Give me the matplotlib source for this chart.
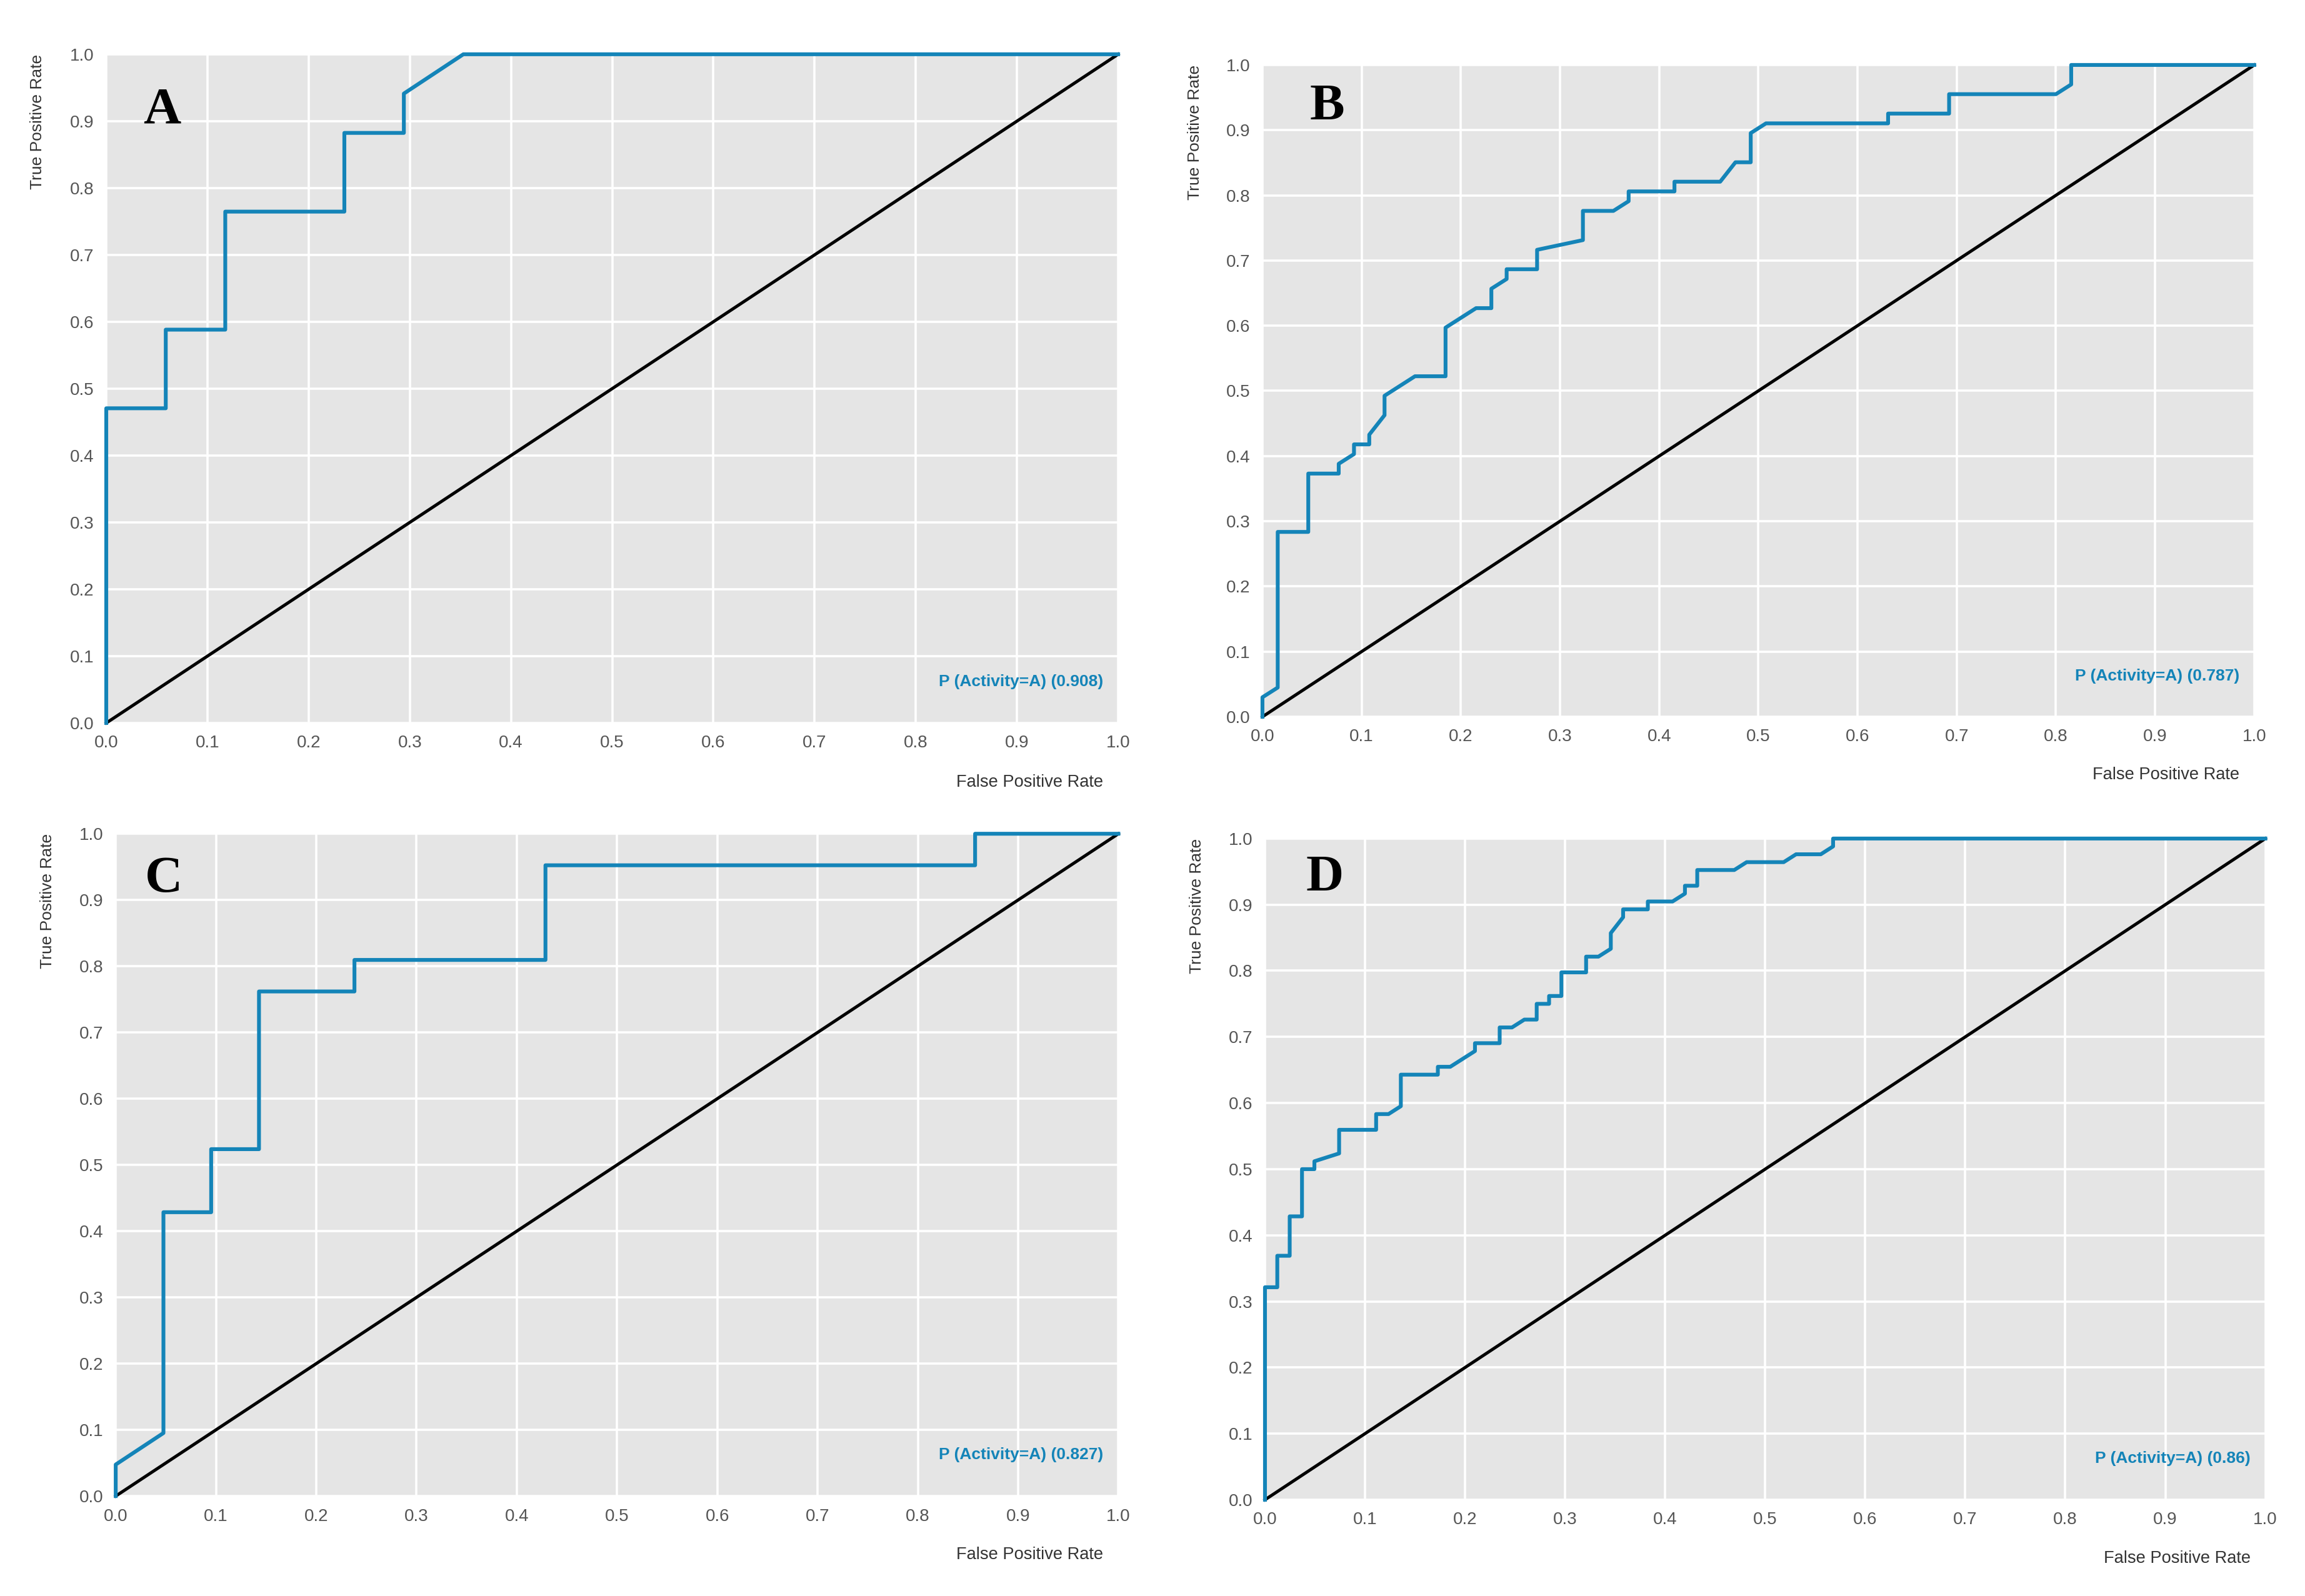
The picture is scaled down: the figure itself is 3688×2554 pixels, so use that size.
import matplotlib.pyplot as plt
import numpy as np

# ROC points
fpr_a = [0.0, 0.0, 0.0588, 0.0588, 0.1176, 0.1176, 0.2353, 0.2353, 0.2941, 0.2941, 0.3529, 1.0]
tpr_a = [0.0, 0.4706, 0.4706, 0.5882, 0.5882, 0.7647, 0.7647, 0.8824, 0.8824, 0.9412, 1.0, 1.0]

fpr_b = [0.0, 0.0, 0.0154, 0.0154, 0.0462, 0.0462, 0.0769, 0.0769, 0.0923, 0.0923, 0.1077, 0.1077,
         0.1231, 0.1231, 0.1538, 0.1846, 0.1846, 0.2154, 0.2308, 0.2308, 0.2462, 0.2462, 0.2769,
         0.2769, 0.3231, 0.3231, 0.3538, 0.3692, 0.3692, 0.4154, 0.4154, 0.4615, 0.4769, 0.4923,
         0.4923, 0.5077, 0.6308, 0.6308, 0.6923, 0.6923, 0.8, 0.8154, 0.8154, 1.0]
tpr_b = [0.0, 0.0299, 0.0448, 0.2836, 0.2836, 0.3731, 0.3731, 0.3881, 0.4030, 0.4179, 0.4179, 0.4328,
         0.4627, 0.4925, 0.5224, 0.5224, 0.5970, 0.6269, 0.6269, 0.6567, 0.6716, 0.6866, 0.6866,
         0.7164, 0.7313, 0.7761, 0.7761, 0.7910, 0.8060, 0.8060, 0.8209, 0.8209, 0.8507, 0.8507,
         0.8955, 0.9104, 0.9104, 0.9254, 0.9254, 0.9552, 0.9552, 0.9701, 1.0, 1.0]

fpr_c = [0.0, 0.0, 0.0476, 0.0476, 0.0952, 0.0952, 0.1429, 0.1429, 0.2381, 0.2381, 0.4286, 0.4286,
         0.8571, 0.8571, 1.0]
tpr_c = [0.0, 0.0476, 0.0952, 0.4286, 0.4286, 0.5238, 0.5238, 0.7619, 0.7619, 0.8095, 0.8095, 0.9524,
         0.9524, 1.0, 1.0]

fpr_d = [0.0, 0.0, 0.0123, 0.0123, 0.0247, 0.0247, 0.0370, 0.0370, 0.0494, 0.0494, 0.0741, 0.0741,
         0.1111, 0.1111, 0.1235, 0.1358, 0.1358, 0.1728, 0.1728, 0.1852, 0.2099, 0.2099, 0.2346,
         0.2346, 0.2469, 0.2593, 0.2716, 0.2716, 0.2840, 0.2840, 0.2963, 0.2963, 0.3210, 0.3210,
         0.3333, 0.3457, 0.3457, 0.3580, 0.3580, 0.3827, 0.3827, 0.4074, 0.4198, 0.4198, 0.4321,
         0.4321, 0.4691, 0.4815, 0.5185, 0.5309, 0.5556, 0.5679, 0.5679, 1.0]
tpr_d = [0.0, 0.3214, 0.3214, 0.3690, 0.3690, 0.4286, 0.4286, 0.5000, 0.5000, 0.5119, 0.5238, 0.5595,
         0.5595, 0.5833, 0.5833, 0.5952, 0.6429, 0.6429, 0.6548, 0.6548, 0.6786, 0.6905, 0.6905,
         0.7143, 0.7143, 0.7262, 0.7262, 0.7500, 0.7500, 0.7619, 0.7619, 0.7976, 0.7976, 0.8214,
         0.8214, 0.8333, 0.8571, 0.8810, 0.8929, 0.8929, 0.9048, 0.9048, 0.9167, 0.9286, 0.9286,
         0.9524, 0.9524, 0.9643, 0.9643, 0.9762, 0.9762, 0.9881, 1.0, 1.0]

letters = ['A', 'B', 'C', 'D']
auc_labels = ['P (Activity=A) (0.908)', 'P (Activity=A) (0.787)',
              'P (Activity=A) (0.827)', 'P (Activity=A) (0.86)']
ticks = [0.0, 0.1, 0.2, 0.3, 0.4, 0.5, 0.6, 0.7, 0.8, 0.9, 1.0]

curves = [(fpr_a, tpr_a), (fpr_b, tpr_b), (fpr_c, tpr_c), (fpr_d, tpr_d)]
boxes = [[0.0461, 0.5470, 0.4390, 0.4190],
         [0.5477, 0.5509, 0.4303, 0.4084],
         [0.0502, 0.0626, 0.4350, 0.4150],
         [0.5488, 0.0603, 0.4340, 0.4143]]
letter_pos = [(0.055, 0.916), (0.065, 0.935), (0.048, 0.931), (0.060, 0.940)]

blue = '#1484b8'
grey = '#555555'
sans = ['Liberation Sans', 'DejaVu Sans']

fig = plt.figure(figsize=(18.44, 12.77), dpi=200)

for i in range(4):
	ax = fig.add_axes(boxes[i])
	ax.set_facecolor('#e5e5e5')
	for s in ax.spines.values():
		s.set_visible(False)
	ax.grid(color='white', linewidth=1.3)
	ax.set_axisbelow(True)

	ax.plot([0, 1], [0, 1], color='black', linewidth=1.8, clip_on=False)
	ax.plot(curves[i][0], curves[i][1], color=blue, linewidth=2.2, clip_on=False, zorder=3)

	ax.set_xlim(0, 1)
	ax.set_ylim(0, 1)
	ax.set_xticks(ticks)
	ax.set_yticks(ticks)
	ax.set_xticklabels(['%.1f' % t for t in ticks], family=sans, color=grey, fontsize=10)
	ax.set_yticklabels(['%.1f' % t for t in ticks], family=sans, color=grey, fontsize=10)
	ax.tick_params(length=0, pad=7)

	ax.text(0.985, -0.089, 'False Positive Rate', transform=ax.transAxes, ha='right', va='center',
		family=sans, color='#333333', fontsize=9.8)
	ax.text(-0.068, 1.0, 'True Positive Rate', transform=ax.transAxes, ha='center', va='top',
		rotation=90, family=sans, color='#333333', fontsize=9.5)
	ax.text(0.985, 0.062, auc_labels[i], transform=ax.transAxes, ha='right', va='center',
		family=sans, color=blue, fontsize=9.5, fontweight='bold')
	ax.text(letter_pos[i][0], letter_pos[i][1], letters[i], transform=ax.transAxes,
		ha='center', va='center', family=['Liberation Serif', 'DejaVu Serif'],
		fontweight='bold', fontsize=30)

fig.savefig('out.png', dpi=200)
